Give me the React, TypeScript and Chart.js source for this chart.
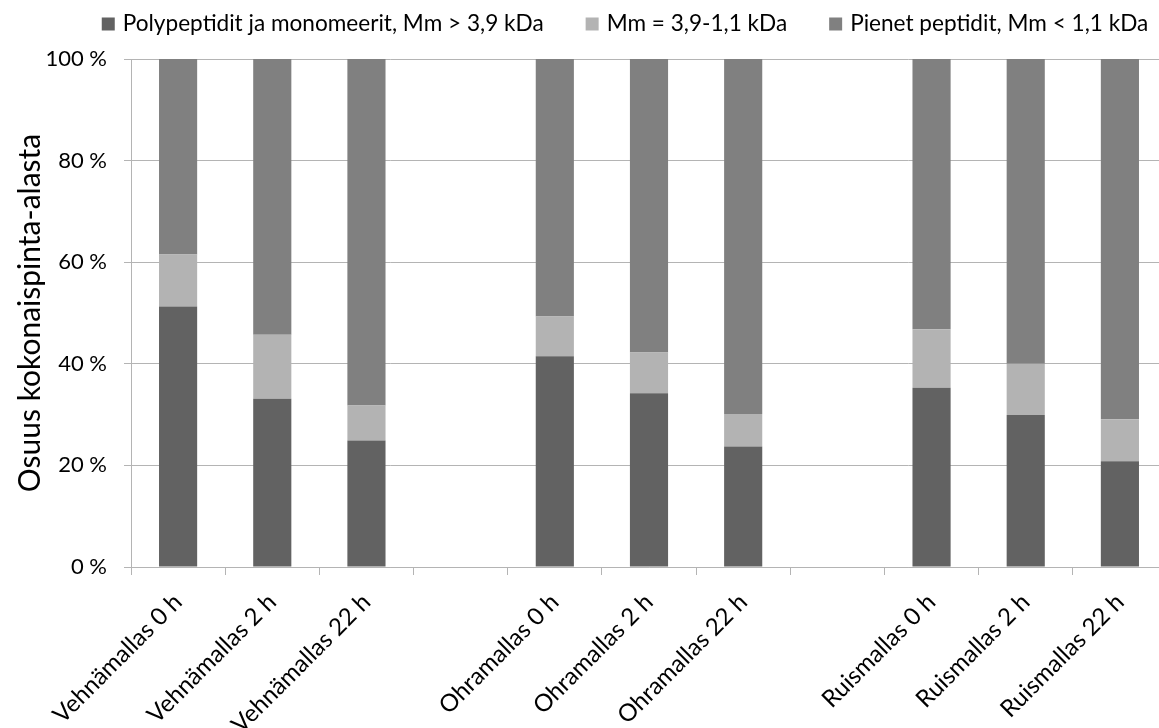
import { useEffect, useRef } from "react";
import { Chart, registerables } from "chart.js";

Chart.register(...registerables);

// Malt samples after 0, 2 and 22 h; empty slots separate the three malt types.
const categories = [
  "Vehnämallas 0 h",
  "Vehnämallas 2 h",
  "Vehnämallas 22 h",
  "",
  "Ohramallas 0 h",
  "Ohramallas 2 h",
  "Ohramallas 22 h",
  "",
  "Ruismallas 0 h",
  "Ruismallas 2 h",
  "Ruismallas 22 h",
];

const seriesNames = [
  "Polypeptidit ja monomeerit, Mm > 3,9 kDa",
  "Mm = 3,9-1,1 kDa",
  "Pienet peptidit, Mm < 1,1 kDa",
];

// Share of total peak area, %
const polypeptides = [51.3, 33.1, 24.9, null, 41.5, 34.2, 23.7, null, 35.3, 29.9, 20.8];
const midPeptides = [10.2, 12.6, 6.9, null, 7.8, 8.0, 6.4, null, 11.5, 10.1, 8.3];
const smallPeptides = [38.5, 54.3, 68.2, null, 50.7, 57.8, 69.9, null, 53.2, 60.0, 70.9];

const yTicks = [0, 20, 40, 60, 80, 100];

const seriesColors = ["#626262", "#b3b3b3", "#808080"];

const FONT = "Lato, 'Open Sans', sans-serif";
const TEXT = "#000000";
const LINE = "#b4b4b4";

// Single-row legend drawn above the plot area.
const legendRow = {
  id: "legendRow",
  afterDraw(chart: any, _args: any, opts: any) {
    const ctx = chart.ctx;
    ctx.save();
    ctx.font = `${opts.size}px ${FONT}`;
    const items = chart.data.datasets.map((ds: any) => ({
      text: ds.label,
      color: ds.backgroundColor,
      w: ctx.measureText(ds.label).width,
    }));
    const total =
      items.reduce((s: number, it: any) => s + opts.box + opts.gap + it.w, 0) +
      opts.spacing * (items.length - 1);
    let x = opts.centerX - total / 2;
    ctx.textBaseline = "middle";
    ctx.textAlign = "left";
    for (const it of items) {
      ctx.fillStyle = it.color;
      ctx.fillRect(x, opts.y - opts.box / 2, opts.box, opts.box);
      x += opts.box + opts.gap;
      ctx.fillStyle = TEXT;
      ctx.fillText(it.text, x, opts.y);
      x += it.w + opts.spacing;
    }
    ctx.restore();
  },
};

export default function App() {
  const canvasRef = useRef<HTMLCanvasElement | null>(null);

  useEffect(() => {
    const canvas = canvasRef.current;
    if (!canvas) return;
    const chart = new Chart(canvas, {
      type: "bar",
      data: {
        labels: categories,
        datasets: [
          { label: seriesNames[0], data: polypeptides, backgroundColor: seriesColors[0] },
          { label: seriesNames[1], data: midPeptides, backgroundColor: seriesColors[1] },
          { label: seriesNames[2], data: smallPeptides, backgroundColor: seriesColors[2] },
        ],
      },
      options: {
        responsive: false,
        animation: false,
        devicePixelRatio: 1,
        layout: { padding: { top: 59, right: 0, bottom: 0, left: 0 } },
        datasets: {
          bar: { categoryPercentage: 1, barPercentage: 0.405, borderWidth: 0 },
        },
        plugins: {
          legend: { display: false },
          tooltip: { enabled: false },
          legendRow: { size: 22.6, box: 13, gap: 8, spacing: 42, centerX: 625, y: 24 },
        } as any,
        scales: {
          x: {
            stacked: true,
            afterFit: (s: any) => {
              s.height = 161;
            },
            grid: {
              display: true,
              drawOnChartArea: false,
              offset: true,
              tickLength: 8,
              color: LINE,
            },
            border: { color: LINE },
            ticks: {
              autoSkip: false,
              minRotation: 45,
              maxRotation: 45,
              padding: 13,
              color: TEXT,
              font: { family: FONT, size: 24 },
            },
          },
          y: {
            stacked: true,
            min: 0,
            max: 100,
            afterFit: (s: any) => {
              s.width = 131;
            },
            afterBuildTicks: (s: any) => {
              s.ticks = yTicks.map((v) => ({ value: v }));
            },
            grid: { color: LINE, tickLength: 7 },
            border: { color: LINE },
            ticks: {
              padding: 17,
              color: TEXT,
              font: { family: FONT, size: 22 },
              callback: (v: any) => `${v} %`,
            },
            title: {
              display: true,
              text: "Osuus kokonaispinta-alasta",
              color: TEXT,
              font: { family: FONT, size: 30 },
              padding: { top: 12, bottom: 0 },
            },
          },
        },
      },
      plugins: [legendRow],
    });
    return () => chart.destroy();
  }, []);

  return (
    <div
      style={{
        position: "fixed",
        left: 0,
        top: 0,
        width: 1159,
        height: 728,
        overflow: "hidden",
        background: "#ffffff",
      }}
    >
      <canvas ref={canvasRef} width={1167} height={728} style={{ display: "block" }} />
    </div>
  );
}
